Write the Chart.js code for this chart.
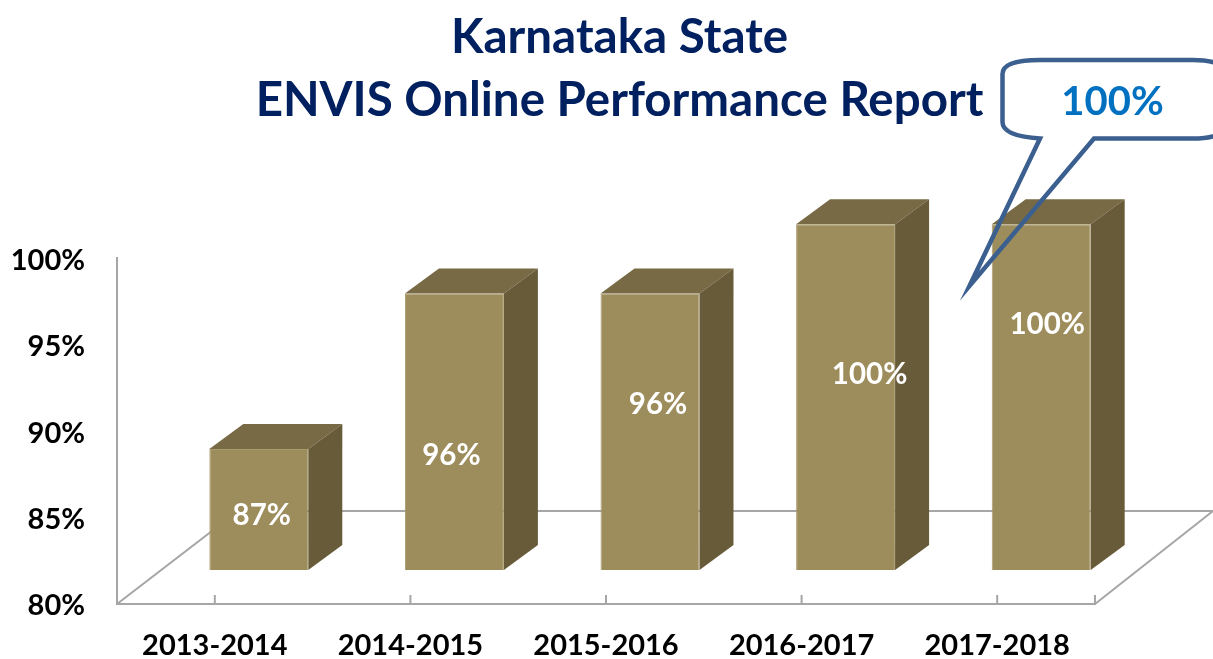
<!DOCTYPE html>
<html><head><meta charset="utf-8">
<style>html,body{margin:0;padding:0;background:#fff}#w{width:1213px;height:659px}</style>
<script src="https://cdn.jsdelivr.net/npm/chart.js@4"></script>
</head><body><div id="w"><canvas id="c"></canvas></div>
<script>
const titleLines = ['Karnataka State', 'ENVIS Online Performance Report'];
const categories = ['2013-2014', '2014-2015', '2015-2016', '2016-2017', '2017-2018'];
const performance = [87, 96, 96, 100, 100];
const yMin = 80, yMax = 100, yStep = 5;
const calloutText = '100%';
// where each white percent label sits: value height on the axis, and sideways nudge in px
const labelLevels = [83.15, 86.6, 89.55, 91.3, 94.2];
const labelNudges = [3, -3, 8, 24, 6];

const FONT = 'Lato, Carlito, sans-serif';
const FRONT = '#9e8d5c', TOP = '#776a45', SIDE = '#685b3a', AXIS = '#a6a6a6', EDGE = '#a99a6c';
const SHIFT_X = 44, SHIFT_Y = -34, DEPTH_X = 34, DEPTH_Y = -25;

const floorPlugin = {
  id: 'floor',
  beforeDatasetsDraw(chart) {
    const {ctx, chartArea: a, scales: {x}} = chart;
    ctx.save();
    ctx.strokeStyle = AXIS; ctx.lineWidth = 2;
    const by = a.bottom - 93;
    ctx.beginPath();
    ctx.moveTo(a.left, a.bottom); ctx.lineTo(a.left + 121, by); ctx.lineTo(a.right + 118, by); ctx.lineTo(a.right, a.bottom);
    ctx.stroke();
    ctx.beginPath();
    const ticks = x.ticks.map((_, i) => x.getPixelForTick(i)).concat(a.right);
    ticks.forEach(p => { ctx.moveTo(p, a.bottom); ctx.lineTo(p, a.bottom - 9); });
    ctx.stroke();
    ctx.restore();
  }
};

const boxPlugin = {
  id: 'box',
  beforeDatasetDraw(chart, args) {
    const ctx = chart.ctx;
    ctx.save();
    ctx.translate(SHIFT_X, SHIFT_Y);
    args.meta.data.forEach(b => {
      const l = b.x - b.width / 2, r = b.x + b.width / 2, t = b.y, bt = b.base;
      ctx.fillStyle = TOP;
      ctx.beginPath(); ctx.moveTo(l, t); ctx.lineTo(l + DEPTH_X, t + DEPTH_Y); ctx.lineTo(r + DEPTH_X, t + DEPTH_Y); ctx.lineTo(r, t); ctx.closePath(); ctx.fill();
      ctx.fillStyle = SIDE;
      ctx.beginPath(); ctx.moveTo(r, t); ctx.lineTo(r + DEPTH_X, t + DEPTH_Y); ctx.lineTo(r + DEPTH_X, bt + DEPTH_Y); ctx.lineTo(r, bt); ctx.closePath(); ctx.fill();
    });
  },
  afterDatasetDraw(chart, args) {
    const ctx = chart.ctx;
    ctx.restore();
    ctx.save();
    ctx.fillStyle = '#fff';
    ctx.font = 'bold 29.5px ' + FONT;
    ctx.textAlign = 'center'; ctx.textBaseline = 'middle';
    args.meta.data.forEach((b, i) => {
      const y = chart.scales.y.getPixelForValue(labelLevels[i]);
      ctx.fillText(performance[i] + '%', b.x + SHIFT_X + labelNudges[i], y + SHIFT_Y);
    });
    ctx.restore();
  }
};

const calloutPlugin = {
  id: 'callout',
  afterDraw(chart) {
    const ctx = chart.ctx;
    ctx.save();
    ctx.strokeStyle = '#3b5f8f'; ctx.lineWidth = 4.5; ctx.lineJoin = 'miter'; ctx.miterLimit = 30;
    ctx.beginPath();
    ctx.moveTo(1040, 138.5);
    ctx.quadraticCurveTo(1002.5, 136, 1002.5, 122);
    ctx.lineTo(1002.5, 74);
    ctx.quadraticCurveTo(1002.5, 60, 1040, 60);
    ctx.lineTo(1193, 60);
    ctx.quadraticCurveTo(1233, 60, 1233, 85);
    ctx.lineTo(1233, 113);
    ctx.quadraticCurveTo(1233, 138.5, 1193, 138.5);
    ctx.lineTo(1094, 138.5);
    ctx.lineTo(969.5, 286);
    ctx.closePath();
    ctx.stroke();
    ctx.fillStyle = '#0070c0';
    ctx.font = 'bold 40px ' + FONT;
    ctx.textAlign = 'center'; ctx.textBaseline = 'middle';
    ctx.fillText(calloutText, 1112.5, 102);
    ctx.restore();
  }
};

new Chart(document.getElementById('c'), {
  type: 'bar',
  data: { labels: categories, datasets: [{ data: performance, backgroundColor: FRONT, borderColor: EDGE, borderWidth: 1, barPercentage: 0.506, categoryPercentage: 1, clip: false, base: yMin, yAxisID: 'y' }] },
  plugins: [floorPlugin, boxPlugin, calloutPlugin],
  options: {
    responsive: true, maintainAspectRatio: false, animation: false,
    layout: { padding: { left: 0, right: -26, top: 0, bottom: 0 } },
    plugins: {
      legend: { display: false }, tooltip: { enabled: false },
      title: { display: true, text: titleLines, color: '#002060', fullSize: true, font: { family: FONT, size: 47.5, weight: 'bold', lineHeight: 1.33 }, padding: { top: 6, bottom: 126 } }
    },
    scales: {
      x: { grid: { display: false }, border: { display: true, color: AXIS, width: 2 },
           afterFit(s) { s.height = 55; },
           ticks: { color: '#000', font: { family: FONT, size: 29, weight: 'bold' }, padding: 16, maxRotation: 0, autoSkip: false } },
      y: { min: yMin, max: yMax, grid: { display: false }, border: { display: true, color: AXIS, width: 2 },
           afterFit(s) { s.width = 117; },
           ticks: { stepSize: yStep, color: '#000', padding: 24, labelOffset: 2, font: { family: FONT, size: 29, weight: 'bold' }, callback: v => v + '%' } },
      spacer: { position: 'right', min: yMin, max: yMax, grid: { display: false }, border: { display: false }, ticks: { display: false },
           afterFit(s) { s.width = 144; } }
    }
  }
});
</script></body></html>
